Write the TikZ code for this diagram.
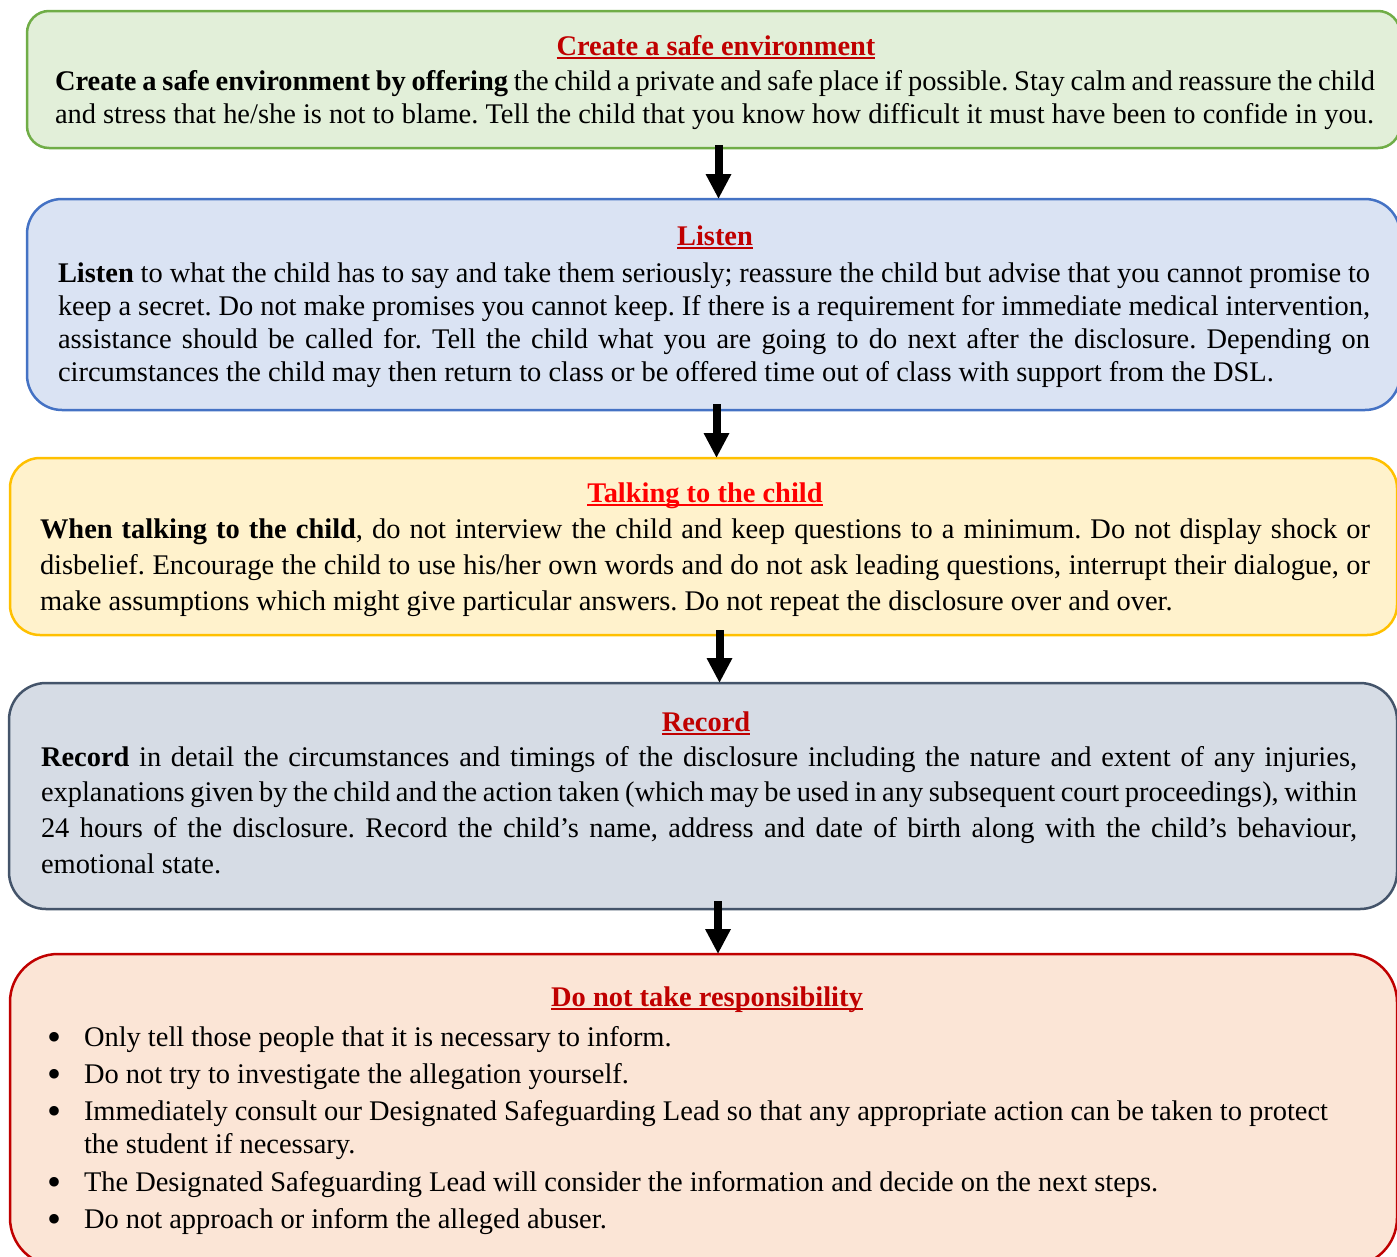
\documentclass[tikz,border=0pt]{standalone}
\usepackage{fontspec}
\setmainfont{Liberation Serif}
\usetikzlibrary{arrows.meta}
\definecolor{gfill}{HTML}{E2EFD9}\definecolor{gdraw}{HTML}{70AD47}
\definecolor{bfill}{HTML}{DAE3F3}\definecolor{bdraw}{HTML}{4472C4}
\definecolor{yfill}{HTML}{FFF2CC}\definecolor{ydraw}{HTML}{FFC000}
\definecolor{sfill}{HTML}{D6DCE5}\definecolor{sdraw}{HTML}{44546A}
\definecolor{rfill}{HTML}{FBE5D6}\definecolor{rdraw}{HTML}{C00000}
\definecolor{tred}{HTML}{C00000}\definecolor{tbright}{HTML}{FF0000}
\newlength\refw
\newsavebox\ulbox
\newsavebox\measbox
\AtBeginDocument{%
  \sbox\measbox{\fontsize{20pt}{24pt}\selectfont\frenchspacing and stress that he/she is not to blame. Tell the child that you know how difficult it must have been to confide in you.}%
  \global\refw=\wd\measbox
  \pgfmathsetmacro\fszloc{1319/\refw*20}%
  \xdef\fsz{\fszloc}%
}
\newcommand\redul[1]{\sbox\ulbox{#1}\rlap{\rule[-4pt]{\wd\ulbox}{2.2pt}}\usebox\ulbox}
\newcommand\bul{\hbox to 37pt{\raisebox{-4pt}{\fontsize{40pt}{40pt}\selectfont\textbullet}\hfil}}
\newcommand\para[3]{\vtop{\hsize=#1\relax\baselineskip=#2\relax\parindent=0pt\leftskip=0pt\rightskip=0pt\parfillskip=0pt plus 1fil\frenchspacing\spaceskip=0.25em plus 0.8em minus 0.1em\relax\hbadness=10000\noindent #3\par}}
\tikzset{
  boxshape/.style={draw, line width=2.5pt, anchor=north west, inner sep=0pt, outer sep=0pt},
  bodytxt/.style={anchor=base west, inner sep=0pt, outer sep=0pt, font=\fontsize{\fsz pt}{33pt}\selectfont},
  titletxt/.style={anchor=base, inner sep=0pt, outer sep=0pt, font=\fontsize{\fsz pt}{33pt}\selectfont\bfseries},
  arr/.style={line width=8pt, -{Triangle[width=24pt,length=25pt]}}
}
\begin{document}
\begin{tikzpicture}[x=1pt,y=-1pt]
\useasboundingbox (0,0) rectangle (1397,1256);
\begin{scope}
\clip (0,0) rectangle (1397,1256);
% boxes
\node[boxshape, draw=gdraw, fill=gfill, minimum width=1373pt, minimum height=137pt, rounded corners=22pt] (b1) at (27,11) {};
\node[boxshape, draw=bdraw, fill=bfill, minimum width=1373pt, minimum height=211pt, rounded corners=35pt] (b2) at (27,199) {};
\node[boxshape, draw=ydraw, fill=yfill, minimum width=1387pt, minimum height=177pt, rounded corners=30pt] (b3) at (10,458) {};
\node[boxshape, draw=sdraw, fill=sfill, minimum width=1388pt, minimum height=226pt, rounded corners=37pt] (b4) at (9,683) {};
\node[boxshape, draw=rdraw, fill=rfill, minimum width=1387pt, minimum height=312pt, rounded corners=48pt] (b5) at (10,954) {};
\end{scope}
% arrows
\draw[arr] ([xshift=5pt,yshift=3pt]b1.south) -- ([xshift=5pt]b1.south |- b2.north);
\draw[arr] ([xshift=3pt,yshift=6pt]b2.south) -- ([xshift=3pt]b2.south |- b3.north);
\draw[arr] ([xshift=16pt,yshift=5pt]b3.south) -- ([xshift=16pt]b3.south |- b4.north);
\draw[arr] ([xshift=15pt,yshift=8pt]b4.south) -- ([xshift=15pt]b4.south |- b5.north);
% box 1
\node[titletxt, text=tred] (t1) at (716,55) {\redul{Create a safe environment}};
\node[bodytxt] (p1) at (55,90) {\para{1320pt}{33pt}{\textbf{Create a safe environment by offering} the child a private and safe place if possible. Stay calm and reassure the child\linebreak and stress that he/she is not to blame. Tell the child that you know how difficult it must have been to confide in you.}};
% box 2
\node[titletxt, text=tred] (t2) at (715,245) {\redul{Listen}};
\node[bodytxt] (p2) at (58,282) {\para{1312pt}{33.3pt}{\textbf{Listen} to what the child has to say and take them seriously; reassure the child but advise that you cannot promise to\linebreak keep a secret. Do not make promises you cannot keep. If there is a requirement for immediate medical intervention,\linebreak assistance should be called for. Tell the child what you are going to do next after the disclosure. Depending on\linebreak circumstances the child may then return to class or be offered time out of class with support from the DSL.}};
% box 3
\node[titletxt, text=tbright] (t3) at (705,502) {\redul{Talking to the child}};
\node[bodytxt] (p3) at (40,538) {\para{1330pt}{36pt}{\textbf{When talking to the child}, do not interview the child and keep questions to a minimum. Do not display shock or\linebreak disbelief. Encourage the child to use his/her own words and do not ask leading questions, interrupt their dialogue, or\linebreak make assumptions which might give particular answers. Do not repeat the disclosure over and over.}};
% box 4
\node[titletxt, text=tred] (t4) at (706,731) {\redul{Record}};
\node[bodytxt] (p4) at (41,766) {\para{1316pt}{35.7pt}{\textbf{Record} in detail the circumstances and timings of the disclosure including the nature and extent of any injuries,\linebreak explanations given by the child and the action taken (which may be used in any subsequent court proceedings), within\linebreak 24 hours of the disclosure. Record the child’s name, address and date of birth along with the child’s behaviour,\linebreak emotional state.}};
% box 5
\node[titletxt, text=tred] (t5) at (707,1006) {\redul{Do not take responsibility}};
\node[bodytxt] (p5) at (47,1046) {\vtop{\baselineskip=33pt\relax
 \hbox{\bul Only tell those people that it is necessary to inform.}
 \vskip 4pt
 \hbox{\bul Do not try to investigate the allegation yourself.}
 \vskip 4pt
 \hbox{\bul Immediately consult our Designated Safeguarding Lead so that any appropriate action can be taken to protect}
 \hbox{\hbox to 37pt{\hfil}the student if necessary.}
 \vskip 5pt
 \hbox{\bul The Designated Safeguarding Lead will consider the information and decide on the next steps.}
 \vskip 4pt
 \hbox{\bul Do not approach or inform the alleged abuser.}
}};
\end{tikzpicture}
\end{document}
